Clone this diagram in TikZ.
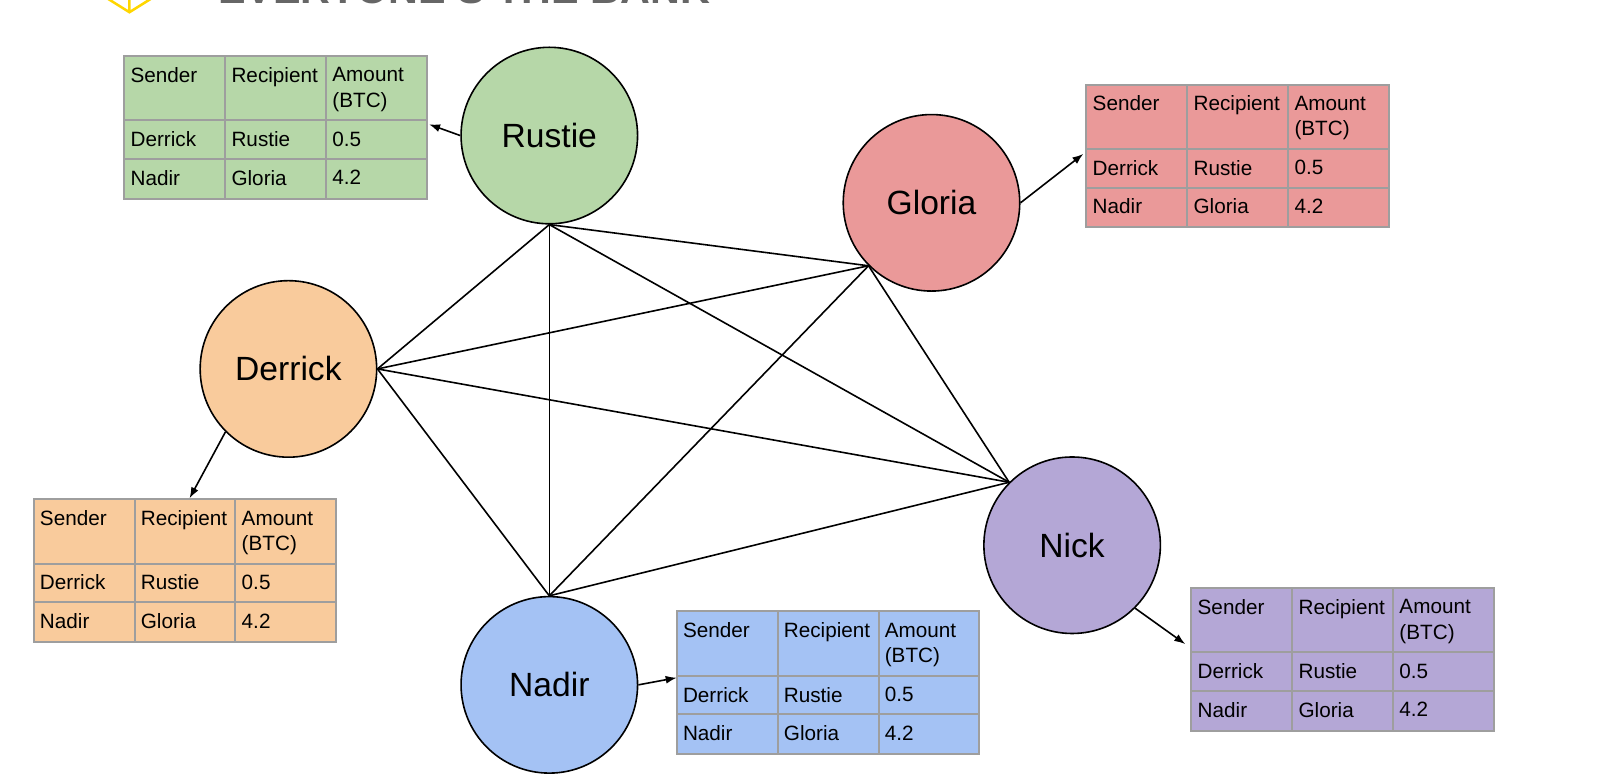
\documentclass[tikz,border=0pt]{standalone}
\usepackage{fontspec}
\setmainfont{Liberation Sans}
\usetikzlibrary{arrows.meta}
\definecolor{gridc}{HTML}{9E9E9E}
\definecolor{rustiec}{HTML}{B6D7A8}
\definecolor{gloriac}{HTML}{EA9999}
\definecolor{derrickc}{HTML}{F9CB9C}
\definecolor{nadirc}{HTML}{A4C2F4}
\definecolor{nickc}{HTML}{B4A7D6}
\definecolor{titlec}{HTML}{666666}
\definecolor{logoc}{HTML}{FFD600}
\tikzset{
  x=1.0191pt,y=-1.0191pt,
  peer/.style={circle,draw=black,line width=1.6pt,minimum size=176.5pt,inner sep=0pt,font=\fontsize{33.6}{36}\selectfont,text=black},
  link/.style={draw=black,line width=1.6pt},
  pointer/.style={draw=black,line width=1.6pt,-{Latex[length=11pt,width=8pt]}},
  cell/.style={anchor=north west,inner sep=0pt,font=\fontsize{20.7}{25.6}\selectfont,text=black,align=left},
  rule/.style={draw=gridc,line width=2pt}
}
\newcommand{\ledger}[4]{%
  \begin{scope}[shift={(#1,#2)}]
    \node[anchor=north west,fill=#3,minimum width=302.7pt,minimum height=142.7pt,inner sep=0pt] (#4) at (0,0) {};
    \draw[rule] (0,0) rectangle (297,140);
    \draw[rule] (99,0) -- (99,140) (198,0) -- (198,140) (0,63) -- (297,63) (0,101) -- (297,101);
    \node[cell] at (6,11) {Sender};
    \node[cell] at (105,11) {Recipient};
    \node[cell] at (204,11) {Amount\\(BTC)};
    \node[cell] at (6,74) {Derrick};
    \node[cell] at (105,74) {Rustie};
    \node[cell] at (204,74) {0.5};
    \node[cell] at (6,112) {Nadir};
    \node[cell] at (105,112) {Gloria};
    \node[cell] at (204,112) {4.2};
  \end{scope}}
\begin{document}
\begin{tikzpicture}
\useasboundingbox (0,0) rectangle (1568,768.3);
\begin{scope}
\clip (0,0) rectangle (1568,768.3);
\node[anchor=base west,inner sep=0pt,font=\fontsize{41.3}{44}\bfseries\selectfont,text=titlec] (title) at (214,3) {EVERYONE'S THE BANK};
\draw[logoc,line width=2.5pt] (103,-3) -- (127,12) -- (151,-3) (127,12) -- (127,-3);
\end{scope}
\ledger{122}{55}{rustiec}{trustie}
\ledger{1066}{83}{gloriac}{tgloria}
\ledger{33}{490}{derrickc}{tderrick}
\ledger{664}{600}{nadirc}{tnadir}
\ledger{1169}{577}{nickc}{tnick}
\node[peer,fill=rustiec] (rustie) at (539,133) {Rustie};
\node[peer,fill=gloriac] (gloria) at (914,199) {Gloria};
\node[peer,fill=derrickc] (derrick) at (283,362) {Derrick};
\node[peer,fill=nickc] (nick) at (1052,535) {Nick};
\node[peer,fill=nadirc] (nadir) at (539,672) {Nadir};
\draw[link] (rustie.south) -- (derrick.east);
\draw[link] (rustie.south) -- (nadir.north);
\draw[link] (rustie.south) -- (gloria.south west);
\draw[link] (rustie.south) -- (nick.north west);
\draw[link] (derrick.east) -- (gloria.south west);
\draw[link] (derrick.east) -- (nick.north west);
\draw[link] (derrick.east) -- (nadir.north);
\draw[link] (gloria.south west) -- (nadir.north);
\draw[link] (gloria.south west) -- (nick.north west);
\draw[link] (nadir.north) -- (nick.north west);
\coordinate (prustie) at (421,122);
\coordinate (pgloria) at (1063,151);
\coordinate (pderrick) at (186,489);
\coordinate (pnadir) at (664,665);
\coordinate (pnick) at (1163,632);
\draw[pointer] (rustie.west) -- (prustie);
\draw[pointer] (gloria.east) -- (pgloria);
\draw[pointer] (derrick.south west) -- (pderrick);
\draw[pointer] (nadir.east) -- (pnadir);
\draw[pointer] (nick.south east) -- (pnick);
\end{tikzpicture}
\end{document}
